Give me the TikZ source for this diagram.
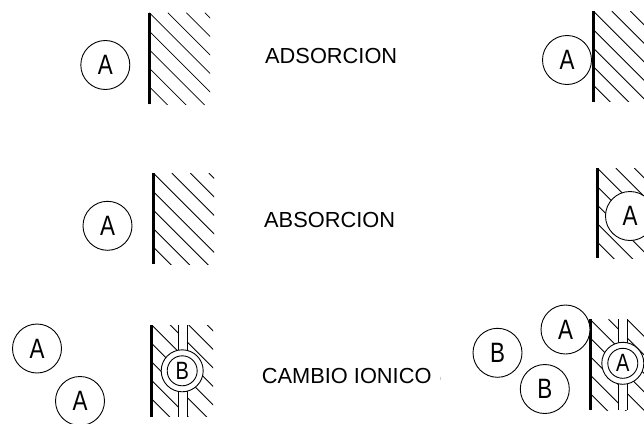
\documentclass[tikz,border=0pt]{standalone}
\usepackage{fontspec}
\setmainfont{Liberation Sans}
\newfontfamily\circfont[FakeStretch=0.8]{Liberation Sans}
\usetikzlibrary{positioning}

\tikzset{
  molec/.style={circle, draw, fill=white, line width=0.9pt, minimum size=49pt, inner sep=0pt, font=\circfont\fontsize{28}{28}\selectfont},
  ringout/.style={circle, draw, fill=white, line width=0.9pt, minimum size=42pt, inner sep=0pt},
  ringin/.style={circle, draw, line width=0.9pt, minimum size=30pt, inner sep=0pt, font=\circfont\fontsize{25}{25}\selectfont},
  wallline/.style={line width=3pt},
  hatchline/.style={line width=0.8pt},
  proctext/.style={anchor=base west, inner sep=0pt, font=\fontsize{21.8}{22}\selectfont}
}

% hatched solid: x0, y0, x1, y1
\newcommand{\hatchbox}[4]{%
  \begin{scope}
    \clip (#1,#2) rectangle (#3,#4);
    \foreach \k in {-111,-92.5,...,80}
      \draw[hatchline] ({#1+\k},#2) -- ++(130,130);
  \end{scope}}

\begin{document}
\begin{tikzpicture}[x=1pt,y=-1pt]
    \useasboundingbox (0,0) rectangle (644,423);

    % adsorcion
    \hatchbox{149.3}{12.7}{210}{104}
    \draw[wallline] (149.3,12.7) -- (149.3,104);
    \node[molec] (adsA) at (105.3,65) {A};
    \node[proctext] (adstext) at (265,63) {ADSORCION};
    \hatchbox{593.3}{11}{650}{101.7}
    \draw[wallline] (593.3,11) -- (593.3,101.7);
    \node[molec] (adsAwall) at (567,60) {A};

    % absorcion
    \hatchbox{153.3}{173}{214}{264}
    \draw[wallline] (153.3,173) -- (153.3,264);
    \node[molec] (absA) at (107.5,225.8) {A};
    \node[proctext] (abstext) at (264,227) {ABSORCION};
    \hatchbox{597.3}{168}{650}{258}
    \draw[wallline] (597.3,168) -- (597.3,258);
    \node[molec] (absAin) at (630,216) {A};

    % cambio ionico
    \node[molec] (ionA1) at (37,348.5) {A};
    \node[molec] (ionA2) at (80,401) {A};
    \hatchbox{151.7}{325}{213}{416.7}
    \fill[white] (178,325) rectangle (187,416.7);
    \draw[hatchline] (178,325) -- (178,416.7) (187,325) -- (187,416.7);
    \draw[wallline] (151.7,325) -- (151.7,416.7);
    \node[ringout] (ionring) at (182.2,370.8) {};
    \node[ringin] (ionB) at (ionring.center) {B};
    \node[proctext] (iontext) at (261.7,383) {CAMBIO IONICO};
    \draw[gray!40, line width=0.8pt] (440,376.5) -- (440,379.5);

    \node[molec] (ionB1) at (497.5,352.8) {B};
    \node[molec] (ionB2) at (544.8,389) {B};
    \hatchbox{590}{319.3}{650}{410}
    \fill[white] (618.3,319.3) rectangle (627.3,410);
    \draw[hatchline] (618.3,319.3) -- (618.3,410) (627.3,319.3) -- (627.3,410);
    \draw[wallline] (590,319.3) -- (590,410);
    \node[molec] (ionAwall) at (565.5,329.5) {A};
    \node[ringout] (ionring2) at (622.8,363.3) {};
    \node[ringin] (ionA3) at (ionring2.center) {A};
\end{tikzpicture}
\end{document}
